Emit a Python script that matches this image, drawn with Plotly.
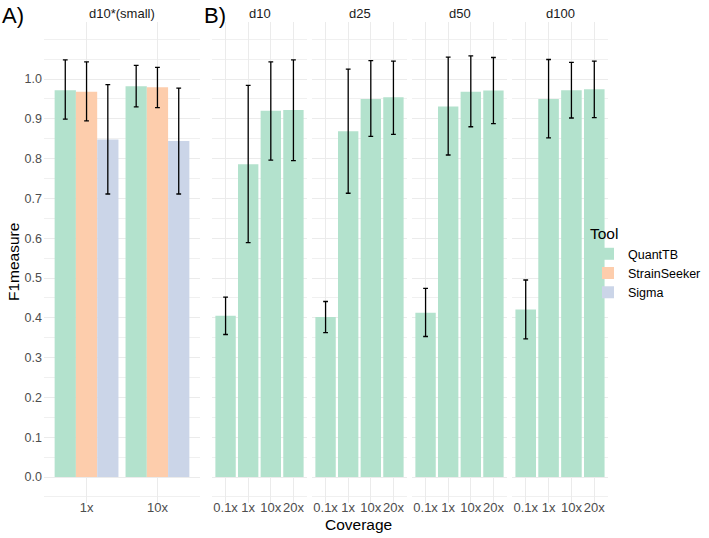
import plotly.graph_objects as go

# ---------------- data ----------------
tools = ["QuantTB", "StrainSeeker", "Sigma"]
tool_colors = ["#B3E2CD", "#FDCDAC", "#CBD5E8"]

a_coverage = ["1x", "10x"]
quanttb_a_mean = [0.972, 0.982]
quanttb_a_hi = [1.048, 1.034]
quanttb_a_lo = [0.899, 0.930]
strainseeker_a_mean = [0.968, 0.979]
strainseeker_a_hi = [1.043, 1.029]
strainseeker_a_lo = [0.895, 0.928]
sigma_a_mean = [0.848, 0.844]
sigma_a_hi = [0.986, 0.977]
sigma_a_lo = [0.711, 0.711]

b_facets = ["d10", "d25", "d50", "d100"]
b_coverage = ["0.1x", "1x", "10x", "20x"]
d10_mean = [0.405, 0.786, 0.920, 0.922]
d10_hi = [0.452, 0.984, 1.043, 1.048]
d10_lo = [0.358, 0.589, 0.796, 0.795]
d25_mean = [0.402, 0.869, 0.950, 0.954]
d25_hi = [0.441, 1.025, 1.046, 1.045]
d25_lo = [0.363, 0.713, 0.856, 0.861]
d50_mean = [0.413, 0.931, 0.968, 0.971]
d50_hi = [0.474, 1.055, 1.058, 1.054]
d50_lo = [0.353, 0.809, 0.880, 0.888]
d100_mean = [0.421, 0.950, 0.972, 0.974]
d100_hi = [0.495, 1.049, 1.042, 1.045]
d100_lo = [0.347, 0.852, 0.902, 0.903]

y_ticks = [0.0, 0.1, 0.2, 0.3, 0.4, 0.5, 0.6, 0.7, 0.8, 0.9, 1.0]

# ---------------- layout geometry (pixels) ----------------
W, H = 709, 538
FONT = "Liberation Sans, Arial, Helvetica, sans-serif"
panel_top, panel_bot = 22, 503
panels_px = [(44, 200), (212, 307), (312, 407), (412, 507), (512, 608)]
ydom = [(H - panel_bot) / H, (H - panel_top) / H]
yrange = [(477 - panel_bot) / 398, (477 - panel_top) / 398]


def err(mean, hi, lo):
    return dict(type="data", symmetric=False,
                array=[h - m for h, m in zip(hi, mean)],
                arrayminus=[m - l for m, l in zip(mean, lo)],
                color="black", thickness=1.3, width=2.4)


fig = go.Figure()

a_means = [quanttb_a_mean, strainseeker_a_mean, sigma_a_mean]
a_his = [quanttb_a_hi, strainseeker_a_hi, sigma_a_hi]
a_los = [quanttb_a_lo, strainseeker_a_lo, sigma_a_lo]
for t, c, m, h, l in zip(tools, tool_colors, a_means, a_his, a_los):
    fig.add_trace(go.Bar(x=a_coverage, y=m, name=t, marker=dict(color=c, line=dict(width=0)),
                         error_y=err(m, h, l), xaxis="x", yaxis="y",
                         showlegend=True, legendgroup=t))

b_means = [d10_mean, d25_mean, d50_mean, d100_mean]
b_his = [d10_hi, d25_hi, d50_hi, d100_hi]
b_los = [d10_lo, d25_lo, d50_lo, d100_lo]
for i, (m, h, l) in enumerate(zip(b_means, b_his, b_los)):
    k = str(i + 2)
    fig.add_trace(go.Bar(x=b_coverage, y=m, name="QuantTB",
                         marker=dict(color=tool_colors[0], line=dict(width=0)),
                         error_y=err(m, h, l), xaxis="x" + k, yaxis="y" + k,
                         showlegend=False, legendgroup="QuantTB", width=0.9))

layout = dict(
    width=W, height=H, margin=dict(l=0, r=0, t=0, b=0, autoexpand=False),
    paper_bgcolor="white", plot_bgcolor="white",
    barmode="group", bargap=0.1, bargroupgap=0,
    font=dict(family=FONT, color="#1A1A1A"),
    legend=dict(x=588 / W, y=(H - 219) / H, xanchor="left", yanchor="top",
                title=dict(text="Tool", font=dict(size=15.5, color="black")),
                font=dict(size=12.5, color="black"), tracegroupgap=0,
                bgcolor="rgba(0,0,0,0)", itemwidth=30),
    annotations=[],
)

for i, (x0, x1) in enumerate(panels_px):
    sfx = "" if i == 0 else str(i + 1)
    ncat = 2 if i == 0 else 4
    layout["xaxis" + sfx] = dict(
        domain=[x0 / W, x1 / W], anchor="y" + sfx, type="category",
        range=[-0.6, ncat - 0.4], showgrid=True, gridcolor="#EBEBEB", gridwidth=1,
        zeroline=False, showline=False, ticks="", fixedrange=True, automargin=False,
        tickangle=0, ticklabelstandoff=-5,
        tickfont=dict(size=13, color="#4D4D4D", family=FONT))
    layout["yaxis" + sfx] = dict(
        domain=ydom, anchor="x" + sfx, range=yrange,
        tickvals=y_ticks, ticktext=["%.1f" % v for v in y_ticks],
        showticklabels=(i == 0), showgrid=True, gridcolor="#EBEBEB", gridwidth=1,
        minor=dict(dtick=0.05, tick0=0, showgrid=True, gridcolor="#F0F0F0", gridwidth=0.7),
        zeroline=False, showline=False, ticks="", fixedrange=True, automargin=False,
        ticklabelstandoff=1,
        tickfont=dict(size=12.5, color="#4D4D4D", family=FONT))
    label = "d10*(small)" if i == 0 else b_facets[i - 1]
    layout["annotations"].append(dict(
        text=label, x=(x0 + x1) / 2 / W, y=(H - 14) / H, xref="paper", yref="paper",
        showarrow=False, xanchor="center", yanchor="middle",
        font=dict(size=13, color="#1A1A1A", family=FONT)))

layout["annotations"] += [
    dict(text="A)", x=0 / W, y=(H - 16) / H, xref="paper", yref="paper", showarrow=False,
         xanchor="left", yanchor="middle", font=dict(size=22, color="black", family=FONT)),
    dict(text="B)", x=202 / W, y=(H - 16) / H, xref="paper", yref="paper", showarrow=False,
         xanchor="left", yanchor="middle", font=dict(size=22, color="black", family=FONT)),
    dict(text="Coverage", x=358 / W, y=(H - 524) / H, xref="paper", yref="paper",
         showarrow=False, xanchor="center", yanchor="middle",
         font=dict(size=15.5, color="black", family=FONT)),
    dict(text="F1measure", x=13 / W, y=(H - 262) / H, xref="paper", yref="paper",
         showarrow=False, xanchor="center", yanchor="middle", textangle=-90,
         font=dict(size=15.5, color="black", family=FONT)),
]

fig.update_layout(**layout)
fig.write_html("out.html", config={"displayModeBar": False},
               post_script="document.body.style.margin='0px';")
